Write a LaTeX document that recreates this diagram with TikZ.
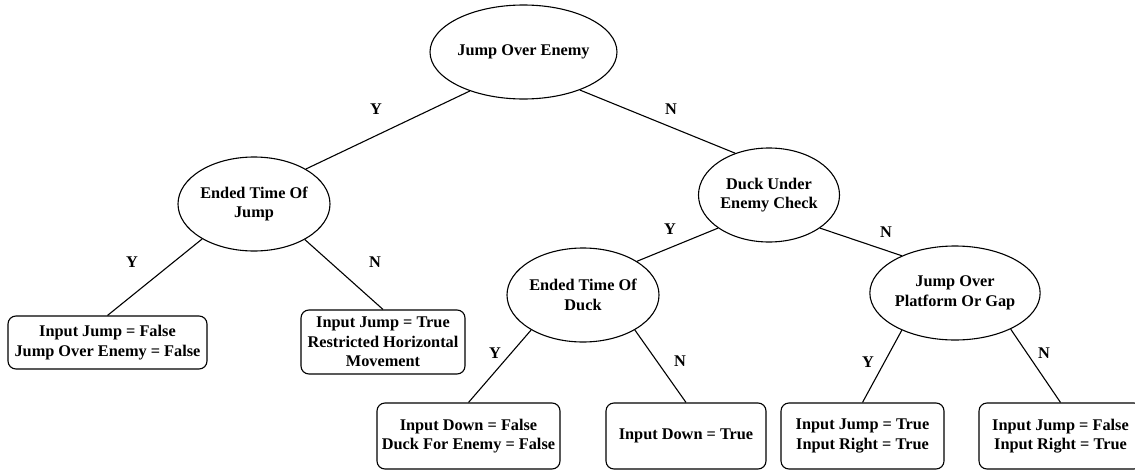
\documentclass[tikz,border=0pt]{standalone}
\usepackage{fontspec}
\setmainfont{Liberation Serif}
\newfontfamily\treefont{Liberation Serif}[BoldFont={Liberation Serif Bold}]
\usetikzlibrary{shapes.geometric}

\begin{document}
\begin{tikzpicture}[x=1pt,y=-1pt,
  every node/.style={font=\treefont\fontsize{16.3}{19.5}\selectfont\bfseries, align=center, inner sep=0pt},
  test/.style={draw, ellipse, line width=1.1pt, minimum width=141pt, minimum height=94pt},
  result/.style={draw, rounded corners=8pt, line width=1.1pt},
  branch/.style={line width=1.1pt}]
  \useasboundingbox (0,0) rectangle (1135,471);
  \node[test] (jump) at (523.5,52) {Jump Over Enemy};
  \node[test] (endjump) at (254,204) {Ended Time Of\\Jump};
  \node[test] (duck) at (769,195) {Duck Under\\Enemy Check};
  \node[test] (endduck) at (583,295) {Ended Time Of\\Duck};
  \node[test] (gap) at (955,293) {Jump Over\\Platform Or Gap};
  \node[result, minimum width=199pt, minimum height=53pt] (res1) at (107.5,342.5) {Input Jump = False\\Jump Over Enemy = False};
  \node[result, minimum width=164pt, minimum height=64pt] (res2) at (383,342) {Input Jump = True\\Restricted Horizontal\\Movement};
  \node[result, minimum width=183pt, minimum height=66pt] (res3) at (468.5,436) {Input Down = False\\Duck For Enemy = False};
  \node[result, minimum width=160pt, minimum height=66pt] (res4) at (686,436) {Input Down = True};
  \node[result, minimum width=163pt, minimum height=66pt] (res5) at (862.5,436) {Input Jump = True\\Input Right = True};
  \node[result, minimum width=163pt, minimum height=66pt] (res6) at (1060.5,436) {Input Jump = False\\Input Right = True};
  \draw[branch] (jump.216) -- (endjump.34);
  \draw[branch] (jump.326) -- (duck.129);
  \draw[branch] (endjump.214) -- (res1.north);
  \draw[branch] (endjump.325) -- (res2.north);
  \draw[branch] (duck.213) -- (endduck.32);
  \draw[branch] (duck.327) -- (gap.145);
  \draw[branch] (endduck.214) -- (res3.north);
  \draw[branch] (endduck.326) -- (res4.north);
  \draw[branch] (gap.215) -- (res5.north);
  \draw[branch] (gap.327) -- (res6.north);
  \node (y1) at (376,109) {Y};
  \node (n1) at (671,109) {N};
  \node (y2) at (132,262) {Y};
  \node (n2) at (375,262) {N};
  \node (y3) at (670,229) {Y};
  \node (n3) at (886,232) {N};
  \node (y4) at (495,353) {Y};
  \node (n4) at (680,361) {N};
  \node (y5) at (868,362) {Y};
  \node (n5) at (1044,353) {N};
\end{tikzpicture}
\end{document}
